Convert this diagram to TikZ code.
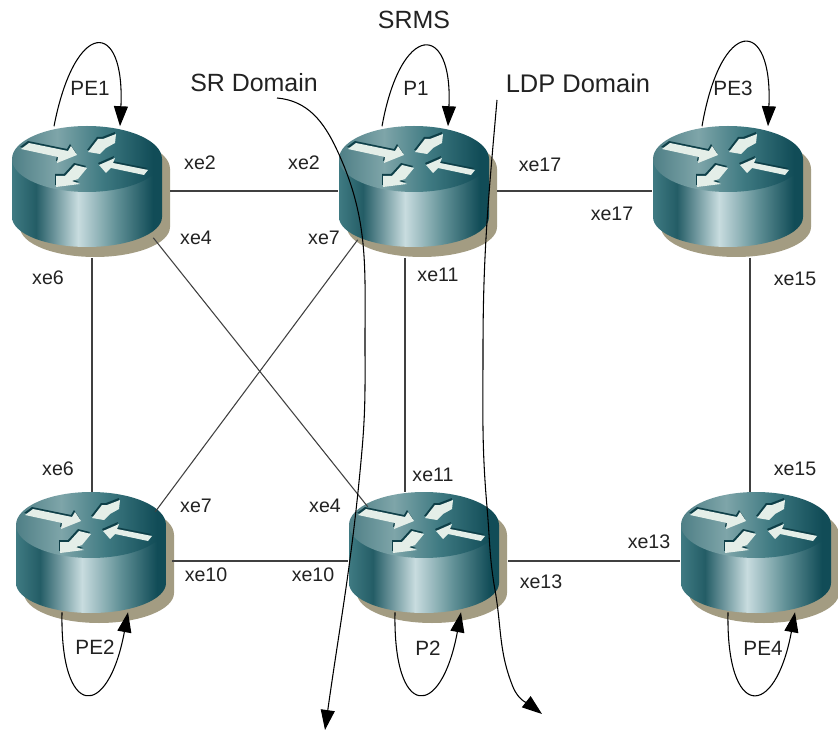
\documentclass[tikz,border=0pt]{standalone}
\usepackage{fontspec}
\setmainfont{Liberation Sans}
\usetikzlibrary{arrows.meta}

\definecolor{routershadow}{HTML}{A39C82}
\definecolor{routerarrow}{HTML}{E4EEE8}
\definecolor{arrowdark}{HTML}{0E3F48}
\definecolor{labelgray}{HTML}{222222}
\definecolor{tealdark}{HTML}{114C57}
\definecolor{tealedge}{HTML}{3F7A82}
\definecolor{tealband}{HTML}{245D66}
\definecolor{tealmid}{HTML}{5F8F95}
\definecolor{teallight}{HTML}{C8DCDF}
\definecolor{topleft}{HTML}{4F7F86}
\definecolor{toplight}{HTML}{7EA5A9}
\definecolor{topmid}{HTML}{3F7A82}

\pgfdeclarehorizontalshading{routerbody}{100bp}{
  color(0bp)=(tealedge); color(25bp)=(tealedge);
  color(33bp)=(tealband); color(47bp)=(teallight);
  color(60bp)=(tealmid); color(72bp)=(tealdark); color(100bp)=(tealdark)}
\pgfdeclarehorizontalshading{routertop}{100bp}{
  color(0bp)=(topleft); color(25bp)=(topleft);
  color(40bp)=(toplight); color(55bp)=(topmid);
  color(72bp)=(tealdark); color(100bp)=(tealdark)}

\newcommand{\routerarrows}{
  (-66,10) -- (-58,16) -- (-19,8) -- (-16,13) -- (-10,4) -- (-30,-4) -- (-29,2) -- cycle
  (29,25) -- (28,16) -- (19,11) -- (13,5) -- (1,7) -- (11,20) -- (16,20) -- cycle
  (12,-6) -- (28,1) -- (26,-4) -- (61,-11) -- (57,-16) -- (24,-9) -- (19,-14) -- cycle
  (-31,-28) -- (-31,-17) -- (-22,-17) -- (-12,-6) -- (0,-9) -- (-9,-20) -- (-15,-22)
  -- (-7,-25) -- cycle
}

\tikzset{
  routerbox/.style={minimum width=119.25pt,minimum height=98.25pt,inner sep=0pt},
  link/.style={draw=black!75,line width=0.8pt},
  domainline/.style={draw=black,line width=0.8pt,-{Triangle[length=15pt,width=10.5pt]}},
  loopline/.style={draw=black,line width=0.8pt,-{Triangle[length=15pt,width=10.5pt]}},
  port/.style={text=labelgray,font=\fontsize{14.7}{17}\selectfont,inner sep=0pt},
  routername/.style={text=labelgray,font=\fontsize{15.5}{18}\selectfont,inner sep=0pt},
  title/.style={text=labelgray,font=\fontsize{18.7}{22}\selectfont,inner sep=0pt},
  routerpic/.pic={
    \begin{scope}[shift={(-3.5,33)}]
      \fill[routershadow] (8,-10) ellipse[x radius=75,y radius=33];
      \fill[routershadow] (-67,-10) -- (-67,-68)
        arc[start angle=180,end angle=360,x radius=75,y radius=30]
        -- (83,-10) -- cycle;
      \shade[shading=routerbody] (-75,0) -- (-75,-58)
        arc[start angle=180,end angle=360,x radius=75,y radius=30]
        -- (75,0) -- cycle;
      \shade[shading=routertop] (0,0) ellipse[x radius=75,y radius=33];
      \fill[arrowdark,shift={(-1,2)}] \routerarrows;
      \fill[routerarrow] \routerarrows;
    \end{scope}
  }
}

\begin{document}
\begin{tikzpicture}[x=0.75pt,y=0.75pt]
    \useasboundingbox (0,0) rectangle (838,-730);
    % routers
    \node[routerbox] (pe1) at (90.5,-192) {};
    \node[routerbox] (p1) at (417.5,-192) {};
    \node[routerbox] (pe3) at (731.5,-192) {};
    \node[routerbox] (pe2) at (94.5,-558) {};
    \node[routerbox] (p2) at (427.5,-558) {};
    \node[routerbox] (pe4) at (759.5,-558) {};
    \pic at (pe1) {routerpic};
    \pic at (p1) {routerpic};
    \pic at (pe3) {routerpic};
    \pic at (pe2) {routerpic};
    \pic at (p2) {routerpic};
    \pic at (pe4) {routerpic};
    % links
    \draw[link] ([shift={(0,1)}]pe1.east) -- ([shift={(0,1)}]p1.west);
    \draw[link] ([shift={(0,1)}]p1.east) -- ([shift={(0,1)}]pe3.west);
    \draw[link] ([shift={(-2,-3)}]pe2.east) -- ([shift={(0,-3)}]p2.west);
    \draw[link] ([shift={(1,-3)}]p2.east) -- ([shift={(0,-3)}]pe4.west);
    \draw[link] ([shift={(1.5,0)}]pe1.south) -- ([shift={(-2.5,0)}]pe2.north);
    \draw[link] ([shift={(-12.5,0)}]p1.south) -- ([shift={(-22.5,0)}]p2.north);
    \draw[link] ([shift={(18.5,0)}]pe3.south) -- ([shift={(-9.5,0)}]pe4.north);
    \draw[link] ([shift={(-17,20)}]pe1.south east) -- ([shift={(20,-14.5)}]p2.north west);
    \draw[link] ([shift={(20,18)}]p1.south west) -- ([shift={(-19,-19.5)}]pe2.north east);
    % loops
    \draw[loopline] ([shift={(-36.5,0)}]pe1.north)
      .. controls +(21,108) and +(5,108) .. ([shift={(29.5,0)}]pe1.north);
    \draw[loopline] ([shift={(-35.5,0)}]p1.north)
      .. controls +(19,105) and +(5,105) .. ([shift={(30.5,0)}]p1.north);
    \draw[loopline] ([shift={(-29.5,0)}]pe3.north)
      .. controls +(19,110) and +(5,110) .. ([shift={(36.5,0)}]pe3.north);
    \draw[loopline] ([shift={(-32.5,11.5)}]pe2.south)
      .. controls +(-2,-108) and +(-20,-108) .. ([shift={(33.5,11.5)}]pe2.south);
    \draw[loopline] ([shift={(-32.5,11.5)}]p2.south)
      .. controls +(-2,-108) and +(-20,-108) .. ([shift={(33.5,11.5)}]p2.south);
    \draw[loopline] ([shift={(-31.5,11.5)}]pe4.south)
      .. controls +(-2,-108) and +(-20,-108) .. ([shift={(35.5,11.5)}]pe4.south);
    % domains
    \coordinate (srstart) at (277,-98);
    \coordinate (srend) at (325,-730);
    \coordinate (ldpstart) at (497,-100);
    \coordinate (ldpend) at (542,-714);
    \draw[domainline] (srstart)
      to [out=-5,in=115] (337,-150)
      to [out=-65,in=90] (365,-340)
      to [out=-90,in=85] (362,-450)
      to [out=-95,in=82] (srend);
    \draw[domainline] (ldpstart)
      to [out=-95,in=90] (483,-350)
      to [out=-90,in=95] (487,-507)
      to [out=-85,in=100] (495,-590)
      to [out=-80,in=112] (513,-687)
      to [out=-68,in=142] (ldpend);
    % labels
    \node[title] (srms) at (414,-20) {SRMS};
    \node[title] (srname) at (254,-83) {SR Domain};
    \node[title,font=\fontsize{19.1}{22}\selectfont] (ldpname) at (578,-83) {LDP Domain};
    \node[routername] (namepe1) at (90,-88) {PE1};
    \node[routername] (namep1) at (416,-88) {P1};
    \node[routername] (namepe3) at (733,-88) {PE3};
    \node[routername] (namepe2) at (95,-647) {PE2};
    \node[routername] (namep2) at (428,-648) {P2};
    \node[routername] (namepe4) at (763,-648) {PE4};
    \node[port] (xea) at (200,-163) {xe2};
    \node[port] (xeb) at (304,-163) {xe2};
    \node[port] (xec) at (540,-165) {xe17};
    \node[port] (xed) at (612,-214) {xe17};
    \node[port] (xee) at (196,-238) {xe4};
    \node[port] (xef) at (324,-238) {xe7};
    \node[port] (xeg) at (48,-278) {xe6};
    \node[port] (xeh) at (438,-275) {xe11};
    \node[port] (xei) at (795,-279) {xe15};
    \node[port] (xej) at (58,-469) {xe6};
    \node[port] (xek) at (433,-475) {xe11};
    \node[port] (xel) at (795,-469) {xe15};
    \node[port] (xem) at (196,-506) {xe7};
    \node[port] (xen) at (325,-506) {xe4};
    \node[port] (xeo) at (649,-542) {xe13};
    \node[port] (xep) at (206,-575) {xe10};
    \node[port] (xeq) at (313,-575) {xe10};
    \node[port] (xer) at (541,-582) {xe13};
\end{tikzpicture}
\end{document}
